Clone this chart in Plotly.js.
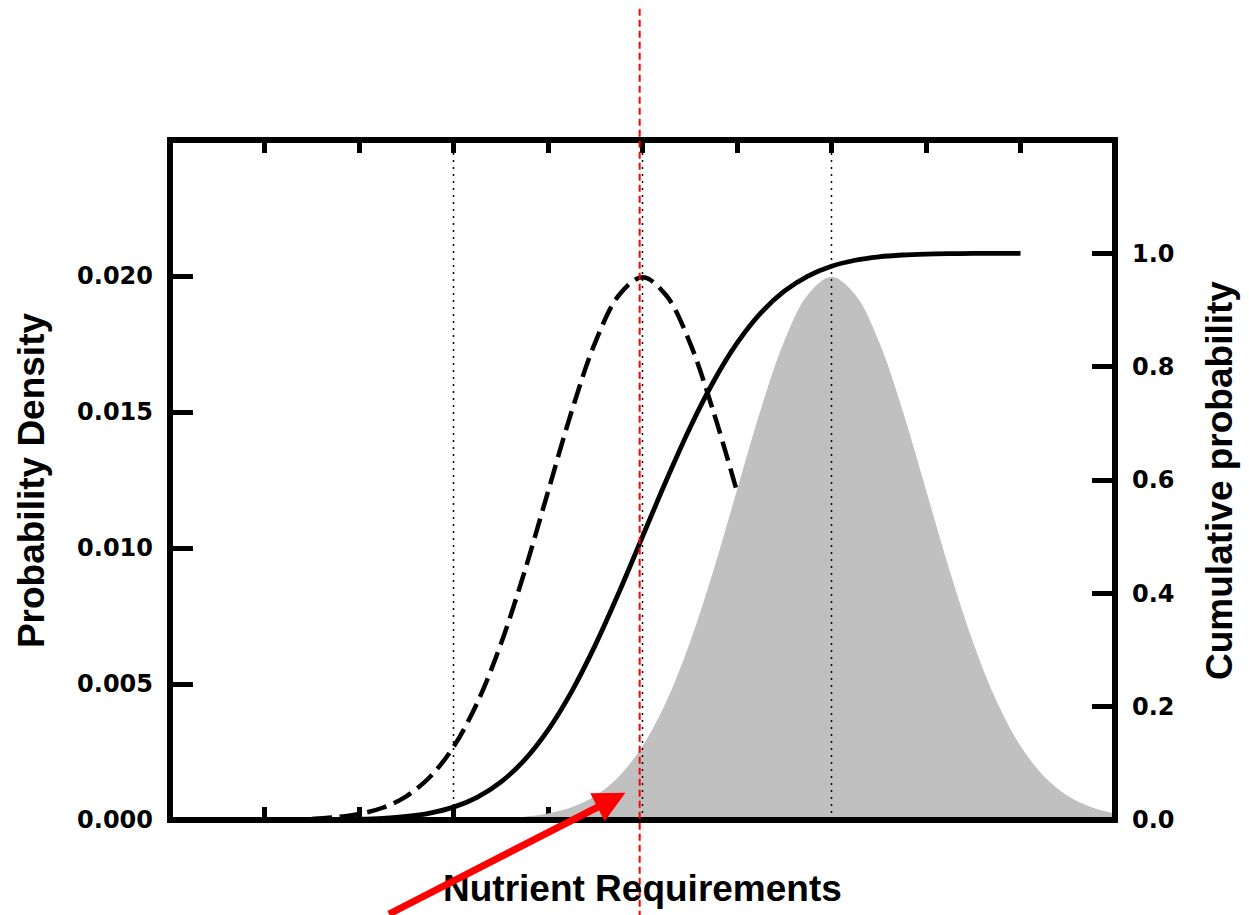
<!DOCTYPE html>
<html>
<head>
<meta charset="utf-8">
<script src="https://cdn.plot.ly/plotly-3.0.1.min.js"></script>
<style>
  html, body { margin: 0; padding: 0; background: #fff; }
  #chart { width: 1249px; height: 915px; }
</style>
</head>
<body>
<div id="chart"></div>
<script>
// Requirement distribution: probability density (dashed curve)
const reqX = [1.5, 1.75, 2.0, 2.25, 2.5, 2.75, 3.0, 3.25, 3.5, 3.75, 4.0, 4.25, 4.5, 4.75, 5.0, 5.25, 5.5, 5.75, 6.0];
const reqDensity = [0.00004, 0.00010, 0.00022, 0.00045, 0.00087, 0.00158, 0.00269, 0.00430, 0.00646, 0.00911,
                    0.01207, 0.01502, 0.01756, 0.01929, 0.01995, 0.01929, 0.01756, 0.01502, 0.01207];

// Intake distribution: probability density (grey area)
const intakeX = [3.0, 3.25, 3.5, 3.75, 4.0, 4.25, 4.5, 4.75, 5.0, 5.25, 5.5, 5.75, 6.0, 6.25, 6.5, 6.75, 7.0,
                 7.25, 7.5, 7.75, 8.0, 8.25, 8.5, 8.75, 9.0, 9.25, 9.5, 9.75, 10.0];
const intakeDensity = [0.00001, 0.00002, 0.00004, 0.00010, 0.00022, 0.00045, 0.00087, 0.00158, 0.00269, 0.00430,
                       0.00646, 0.00911, 0.01207, 0.01502, 0.01756, 0.01929, 0.01995, 0.01929, 0.01756, 0.01502,
                       0.01207, 0.00911, 0.00646, 0.00430, 0.00269, 0.00158, 0.00087, 0.00045, 0.00022];

// Cumulative probability of the requirement (solid curve, right axis)
const cdfX = [1.0, 1.25, 1.5, 1.75, 2.0, 2.25, 2.5, 2.75, 3.0, 3.25, 3.5, 3.75, 4.0, 4.25, 4.5, 4.75, 5.0,
              5.25, 5.5, 5.75, 6.0, 6.25, 6.5, 6.75, 7.0, 7.25, 7.5, 7.75, 8.0, 8.25, 8.5, 8.75, 9.0];
const cdfValues = [0.00003, 0.00009, 0.00023, 0.00058, 0.00135, 0.00298, 0.00621, 0.01222, 0.02275, 0.04006,
                   0.06681, 0.10565, 0.15866, 0.22663, 0.30854, 0.40129, 0.50000, 0.59871, 0.69146, 0.77337,
                   0.84134, 0.89435, 0.93319, 0.95994, 0.97725, 0.98778, 0.99379, 0.99702, 0.99865, 0.99942,
                   0.99977, 0.99991, 0.99997];

// Reference lines and the highlighted point
const guideX = [3, 5, 7];
const cutoffX = 4.97;
const arrowTip = { x: 4.82, y: 0.001 };

// Axis ticks
const xTicks = [1, 2, 3, 4, 5, 6, 7, 8, 9];
const densityTicks = [0, 0.005, 0.010, 0.015, 0.020];
const cumulativeTicks = [0, 0.2, 0.4, 0.6, 0.8, 1.0];

const traces = [
  {
    x: reqX, y: reqDensity, type: 'scatter', mode: 'lines',
    line: { color: '#000', width: 4.5, dash: '20px,8px', shape: 'spline' },
    hoverinfo: 'skip'
  },
  {
    x: intakeX, y: intakeDensity, type: 'scatter', mode: 'lines',
    fill: 'tozeroy', fillcolor: '#c0c0c0',
    line: { color: '#c0c0c0', width: 1, shape: 'spline' },
    hoverinfo: 'skip'
  },
  {
    x: cdfX, y: cdfValues, type: 'scatter', mode: 'lines', yaxis: 'y2',
    line: { color: '#000', width: 4.8, shape: 'spline' },
    hoverinfo: 'skip'
  }
];

const tickFont = { family: 'DejaVu Sans', size: 24, color: '#000', weight: 'bold' };
const titleFont = { family: 'Liberation Sans, Arial', size: 37, color: '#000', weight: 'bold' };

const shapes = guideX.map(gx => ({
  type: 'line', xref: 'x', yref: 'y', x0: gx, x1: gx, y0: 0, y1: 0.025,
  line: { color: '#000', width: 1.5, dash: '2px,5px' }, layer: 'above'
}));
// Plot frame
shapes.push({
  type: 'rect', xref: 'paper', yref: 'paper', x0: 0, x1: 1, y0: 0, y1: 1,
  line: { color: '#000', width: 6 }, fillcolor: 'rgba(0,0,0,0)', layer: 'above'
});
shapes.push({
  type: 'line', xref: 'x', yref: 'paper', x0: cutoffX, x1: cutoffX, y0: -0.16, y1: 1.195,
  line: { color: '#ff0000', width: 2, dash: '7px,4px' }, layer: 'above'
});

const axisCommon = {
  ticks: 'inside', tickwidth: 5, tickcolor: '#000',
  showline: false, showgrid: false, zeroline: false,
  layer: 'below traces', fixedrange: true
};

const layout = {
  width: 1249, height: 915,
  margin: { l: 170, r: 134, t: 140, b: 95, pad: 0 },
  paper_bgcolor: '#fff', plot_bgcolor: '#fff',
  showlegend: false,
  xaxis: Object.assign({}, axisCommon, {
    range: [0, 10], tickvals: xTicks, showticklabels: false, ticklen: 13, mirror: 'ticks'
  }),
  yaxis: Object.assign({}, axisCommon, {
    range: [0, 0.025], tickvals: densityTicks, tickformat: '.3f', ticklen: 23,
    tickfont: tickFont, ticklabelstandoff: 16
  }),
  yaxis2: Object.assign({}, axisCommon, {
    overlaying: 'y', side: 'right',
    range: [0, 1.2], tickvals: cumulativeTicks, tickformat: '.1f', ticklen: 23,
    tickfont: tickFont, ticklabelstandoff: 16
  }),
  shapes: shapes,
  annotations: [
    {
      text: 'Nutrient Requirements', xref: 'paper', yref: 'paper', x: 0.5, y: -0.1,
      xanchor: 'center', yanchor: 'middle', showarrow: false, font: titleFont
    },
    {
      text: 'Probability Density', xref: 'paper', yref: 'paper', x: -0.147, y: 0.5,
      xanchor: 'center', yanchor: 'middle', textangle: -90, showarrow: false, font: titleFont
    },
    {
      text: 'Cumulative probability', xref: 'paper', yref: 'paper', x: 1.11, y: 0.5,
      xanchor: 'center', yanchor: 'middle', textangle: -90, showarrow: false, font: titleFont
    },
    {
      text: '', xref: 'x', yref: 'y', x: arrowTip.x, y: arrowTip.y,
      axref: 'pixel', ayref: 'pixel', ax: -238, ay: 122,
      showarrow: true, arrowcolor: '#ff0000', arrowwidth: 7, arrowhead: 2, arrowsize: 0.9
    }
  ]
};

Plotly.newPlot('chart', traces, layout, { displayModeBar: false, staticPlot: true });
</script>
</body>
</html>
